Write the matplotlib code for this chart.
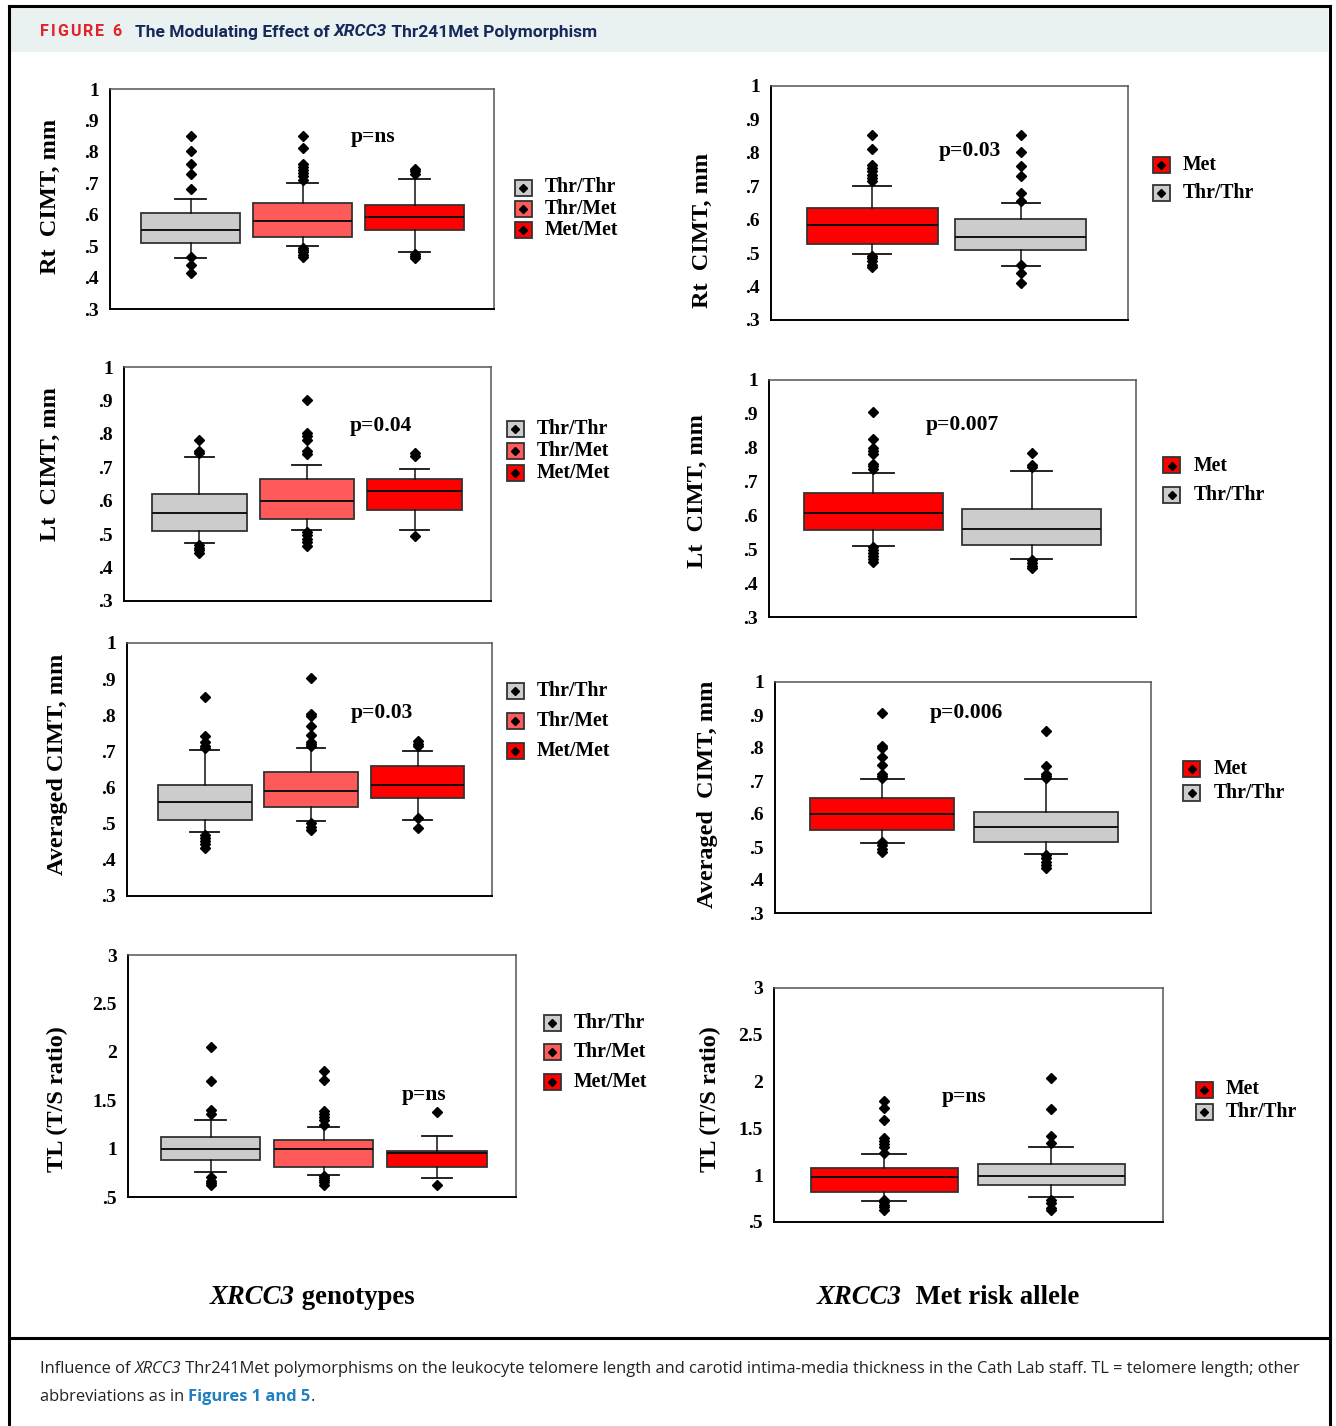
import matplotlib
matplotlib.use("Agg")
import matplotlib.pyplot as plt
from matplotlib.lines import Line2D
from matplotlib.patches import Rectangle
from matplotlib.ticker import FuncFormatter, MultipleLocator

W, H = 1336, 1426

SERIF = ["Liberation Serif", "DejaVu Serif"]
SANS = ["Open Sans", "DejaVu Sans"]
HEAD = ["Liberation Sans Narrow", "Roboto", "DejaVu Sans"]

GRAY = "#cccccc"
SALMON = "#ff5a5a"
RED = "#ff0000"
NAVY = "#15295a"
LINK = "#1f7fc0"

genotypes = ["Thr/Thr", "Thr/Met", "Met/Met"]
genotype_colors = [GRAY, SALMON, RED]
alleles = ["Met", "Thr/Thr"]
allele_colors = [RED, GRAY]

# box summaries: (lower whisker, Q1, median, Q3, upper whisker)
rt_geno = [(0.461, 0.510, 0.550, 0.605, 0.649),
           (0.501, 0.530, 0.581, 0.636, 0.700),
           (0.480, 0.552, 0.593, 0.630, 0.714)]
rt_geno_out = [[0.852, 0.802, 0.762, 0.731, 0.681, 0.464, 0.441, 0.414],
               [0.852, 0.812, 0.762, 0.752, 0.742, 0.733, 0.722, 0.712,
                0.495, 0.487, 0.480, 0.472, 0.465],
               [0.747, 0.739, 0.728, 0.476, 0.468, 0.462]]

rt_allele = [(0.497, 0.528, 0.584, 0.636, 0.700),
             (0.463, 0.509, 0.547, 0.603, 0.650)]
rt_allele_out = [[0.852, 0.812, 0.764, 0.755, 0.745, 0.735, 0.725, 0.715,
                  0.492, 0.485, 0.475, 0.466, 0.458],
                 [0.852, 0.802, 0.762, 0.731, 0.681, 0.655, 0.466, 0.440, 0.412]]

lt_geno = [(0.473, 0.509, 0.564, 0.620, 0.732),
           (0.512, 0.546, 0.599, 0.665, 0.707),
           (0.512, 0.571, 0.630, 0.665, 0.696)]
lt_geno_out = [[0.783, 0.749, 0.742, 0.468, 0.460, 0.452, 0.444],
               [0.902, 0.803, 0.795, 0.783, 0.749, 0.741,
                0.505, 0.496, 0.486, 0.476, 0.465],
               [0.742, 0.735, 0.494]]

lt_allele = [(0.511, 0.556, 0.608, 0.665, 0.725),
             (0.472, 0.512, 0.559, 0.620, 0.730)]
lt_allele_out = [[0.905, 0.825, 0.800, 0.790, 0.780, 0.753, 0.745, 0.737,
                  0.507, 0.498, 0.489, 0.480, 0.470, 0.462],
                 [0.784, 0.750, 0.743, 0.468, 0.460, 0.452, 0.444]]

avg_geno = [(0.476, 0.511, 0.560, 0.608, 0.705),
            (0.507, 0.546, 0.591, 0.643, 0.709),
            (0.511, 0.570, 0.606, 0.661, 0.702)]
avg_geno_out = [[0.851, 0.744, 0.725, 0.716, 0.710, 0.470, 0.461, 0.452, 0.443, 0.434],
                [0.902, 0.803, 0.798, 0.771, 0.746, 0.727, 0.720, 0.714,
                 0.503, 0.492, 0.483],
                [0.729, 0.721, 0.714, 0.515, 0.489]]

avg_allele = [(0.511, 0.551, 0.599, 0.650, 0.706),
              (0.480, 0.515, 0.562, 0.606, 0.706)]
avg_allele_out = [[0.907, 0.805, 0.799, 0.772, 0.747, 0.722, 0.716, 0.710,
                   0.515, 0.505, 0.495, 0.486],
                  [0.853, 0.746, 0.722, 0.715, 0.710, 0.476, 0.466, 0.456, 0.446, 0.436]]

tl_geno = [(0.763, 0.887, 0.995, 1.117, 1.296),
           (0.725, 0.807, 0.995, 1.089, 1.220),
           (0.700, 0.807, 0.952, 0.980, 1.130)]
tl_geno_out = [[2.045, 1.700, 1.400, 1.357, 0.708, 0.670, 0.645, 0.620],
               [1.800, 1.711, 1.390, 1.360, 1.330, 1.300, 1.244,
                0.715, 0.695, 0.675, 0.650, 0.625],
               [1.380, 0.629]]

tl_allele = [(0.722, 0.822, 0.982, 1.082, 1.228),
             (0.769, 0.890, 0.996, 1.117, 1.300)]
tl_allele_out = [[1.797, 1.719, 1.587, 1.400, 1.370, 1.330, 1.300, 1.235,
                  0.733, 0.710, 0.680, 0.655, 0.630],
                 [2.040, 1.705, 1.416, 1.345, 0.733, 0.700, 0.650, 0.626]]

p_values = ["p=ns", "p=0.03", "p=0.04", "p=0.007", "p=0.03", "p=0.006", "p=ns", "p=ns"]

plt.rcParams["font.family"] = SERIF
plt.rcParams["font.weight"] = "bold"

fig = plt.figure(figsize=(W / 100, H / 100), dpi=100)


def fx(x):
    return x / W


def fy(y):
    return 1 - y / H


def tick_fmt(v, _):
    if abs(v - round(v)) < 1e-9:
        return "%d" % round(v)
    s = "%.1f" % v
    return s[1:] if s.startswith("0") else s


# pixel layout of each panel: axes box, y label centre, p-value spot, legend
panels = [
    dict(stats=rt_geno, out=rt_geno_out, groups=genotypes, colors=genotype_colors,
         rect=(110, 89, 494, 309), xlim=(0.28, 3.71), ylab="Rt  CIMT, mm", ylab_xy=(50, 196),
         p_xy=(0.685, 0.78), leg=(523, 187.5, 21.3)),
    dict(stats=rt_allele, out=rt_allele_out, groups=alleles, colors=allele_colors,
         rect=(771, 86, 1128, 320), xlim=(0.32, 2.72), ylab="Rt  CIMT, mm", ylab_xy=(702, 230),
         p_xy=(0.557, 0.722), leg=(1161, 165, 28)),
    dict(stats=lt_geno, out=lt_geno_out, groups=genotypes, colors=genotype_colors,
         rect=(124, 367, 491, 601), xlim=(0.30, 3.71), ylab="Lt  CIMT, mm", ylab_xy=(50, 464),
         p_xy=(0.70, 0.748), leg=(515, 429, 22)),
    dict(stats=lt_allele, out=lt_allele_out, groups=alleles, colors=allele_colors,
         rect=(769, 380, 1136, 617), xlim=(0.34, 2.66), ylab="Lt  CIMT, mm", ylab_xy=(697, 491),
         p_xy=(0.526, 0.81), leg=(1171.5, 465.5, 29)),
    dict(stats=avg_geno, out=avg_geno_out, groups=genotypes, colors=genotype_colors,
         rect=(127, 643, 492, 896), xlim=(0.27, 3.70), ylab="Averaged CIMT, mm", ylab_xy=(58, 764),
         p_xy=(0.699, 0.723), leg=(515, 691, 30)),
    dict(stats=avg_allele, out=avg_allele_out, groups=alleles, colors=allele_colors,
         rect=(775, 682, 1151, 913), xlim=(0.345, 2.64), ylab="Averaged  CIMT, mm", ylab_xy=(707, 794),
         p_xy=(0.508, 0.866), leg=(1191.5, 769.5, 23.5)),
    dict(stats=tl_geno, out=tl_geno_out, groups=genotypes, colors=genotype_colors,
         rect=(128, 955, 516, 1197), xlim=(0.27, 3.70), ylab="TL (T/S ratio)", ylab_xy=(57, 1099),
         p_xy=(0.763, 0.421), leg=(552, 1023, 29.3), tl=True),
    dict(stats=tl_allele, out=tl_allele_out, groups=alleles, colors=allele_colors,
         rect=(774, 988, 1163, 1222), xlim=(0.34, 2.67), ylab="TL (T/S ratio)", ylab_xy=(710, 1099),
         p_xy=(0.488, 0.534), leg=(1204, 1089.5, 22.5), tl=True),
]


def draw_panel(cfg, ptext):
    l, t, r, b = cfg["rect"]
    ax = fig.add_axes([fx(l), fy(b), (r - l) / W, (b - t) / H])
    stats = []
    for (lo, q1, med, q3, hi), fl in zip(cfg["stats"], cfg["out"]):
        stats.append(dict(whislo=lo, q1=q1, med=med, q3=q3, whishi=hi, fliers=fl))
    n = len(stats)
    bp = ax.bxp(stats, positions=range(1, n + 1), widths=0.88, patch_artist=True,
                capwidths=0.27 if n == 3 else 0.26,
                boxprops=dict(edgecolor="#333333", linewidth=1.3),
                medianprops=dict(color="#111111", linewidth=1.4),
                whiskerprops=dict(color="#111111", linewidth=1.1),
                capprops=dict(color="#111111", linewidth=1.3),
                flierprops=dict(marker="D", markerfacecolor="black",
                                markeredgecolor="black", markersize=4.6))
    for patch, c in zip(bp["boxes"], cfg["colors"]):
        patch.set_facecolor(c)

    ax.set_xlim(*cfg["xlim"])
    if cfg.get("tl"):
        ax.set_ylim(0.5, 3.0)
        ax.yaxis.set_major_locator(MultipleLocator(0.5))
    else:
        ax.set_ylim(0.3, 1.0)
        ax.yaxis.set_major_locator(MultipleLocator(0.1))
    ax.yaxis.set_major_formatter(FuncFormatter(tick_fmt))
    ax.set_xticks([])
    ax.tick_params(axis="y", length=0, pad=8, labelsize=14)
    for side in ("left", "bottom"):
        ax.spines[side].set_color("#000000")
        ax.spines[side].set_linewidth(1.4)
    for side in ("top", "right"):
        ax.spines[side].set_color("#555555")
        ax.spines[side].set_linewidth(1.1)

    ax.text(cfg["p_xy"][0], cfg["p_xy"][1], ptext, transform=ax.transAxes,
            ha="center", va="center", fontsize=15.5)
    x, y = cfg["ylab_xy"]
    fig.text(fx(x), fy(y), cfg["ylab"], rotation=90, ha="center", va="center", fontsize=17.5)

    # legend swatches with a diamond glyph, as drawn by the stats package
    sx, y0, dy = cfg["leg"]
    for i, (name, c) in enumerate(zip(cfg["groups"], cfg["colors"])):
        cy = y0 + i * dy
        fig.add_artist(Rectangle((fx(sx - 8.5), fy(cy + 8)), 17 / W, 16 / H,
                                 transform=fig.transFigure, facecolor=c,
                                 edgecolor="#333333", linewidth=1.3))
        fig.add_artist(Line2D([fx(sx)], [fy(cy)], transform=fig.transFigure, marker="D",
                              markersize=3.6, color="black", linestyle="none"))
        fig.text(fx(sx + 22), fy(cy), name, ha="left", va="center", fontsize=14.2)


for cfg, ptext in zip(panels, p_values):
    draw_panel(cfg, ptext)

renderer = fig.canvas.get_renderer()


def run_width(s, **kw):
    a = fig.text(0, 0, "|" + s + "|", **kw)
    b = fig.text(0, 0, "||", **kw)
    w = a.get_window_extent(renderer).width - b.get_window_extent(renderer).width
    a.remove()
    b.remove()
    return w


def draw_runs(x, y, runs, center=False, **common):
    widths = [run_width(s, **common, **style) for s, style in runs]
    if center:
        x -= sum(widths) / 2
    for (s, style), w in zip(runs, widths):
        fig.text(fx(x), fy(y), s, ha="left", va="center", **common, **style)
        x += w


# group captions under each column
draw_runs(312, 1298, [("XRCC3", dict(style="italic")), (" genotypes", {})],
          center=True, fontsize=19.3, fontweight="bold")
draw_runs(948, 1297, [("XRCC3", dict(style="italic")), ("  Met risk allele", {})],
          center=True, fontsize=19.3, fontweight="bold")

# header band and frame
fig.add_artist(Rectangle((fx(10), fy(52)), 1318 / W, 44 / H, transform=fig.transFigure,
                         facecolor="#e9f1f1", edgecolor="none", zorder=0))
for xs, ys in [((9, 9), (6, H)), ((1330, 1330), (6, H)),
               ((9, 1330), (6, 6)), ((9, 1330), (1338, 1338))]:
    fig.add_artist(Line2D([fx(v) for v in xs], [fy(v) for v in ys],
                          transform=fig.transFigure, color="black", linewidth=2.2))

# letter-spaced figure number
x = 40
for ch in "FIGURE 6":
    fig.text(fx(x), fy(32), ch, family=HEAD, fontsize=11.5, fontweight="bold",
             color="#e3212b", ha="left", va="center")
    x += run_width(ch, family=HEAD, fontsize=11.5, fontweight="bold") + 2.0
draw_runs(135, 32, [("The Modulating Effect of ", {}), ("XRCC3", dict(style="italic")),
                    (" Thr241Met Polymorphism", {})],
          family=HEAD, fontsize=12.5, fontweight="bold", color=NAVY)

# caption
CAP = 11.85
draw_runs(40, 1369, [("Influence of ", {}), ("XRCC3", dict(style="italic")),
                     (" Thr241Met polymorphisms on the leukocyte telomere length and carotid "
                      "intima-media thickness in the Cath Lab staff. TL = telomere length; other", {})],
          family=SANS, fontsize=CAP, fontweight="normal", color="#222222")
x = 40
for s, st in [("abbreviations as in ", dict(color="#222222", fontweight="normal")),
              ("Figures 1 and 5", dict(color=LINK, fontweight="bold")),
              (".", dict(color="#222222", fontweight="normal"))]:
    fig.text(fx(x), fy(1397), s, family=SANS, fontsize=CAP, ha="left", va="center", **st)
    x += run_width(s, family=SANS, fontsize=CAP, **st)

fig.savefig("out.png", dpi=100, facecolor="white")
